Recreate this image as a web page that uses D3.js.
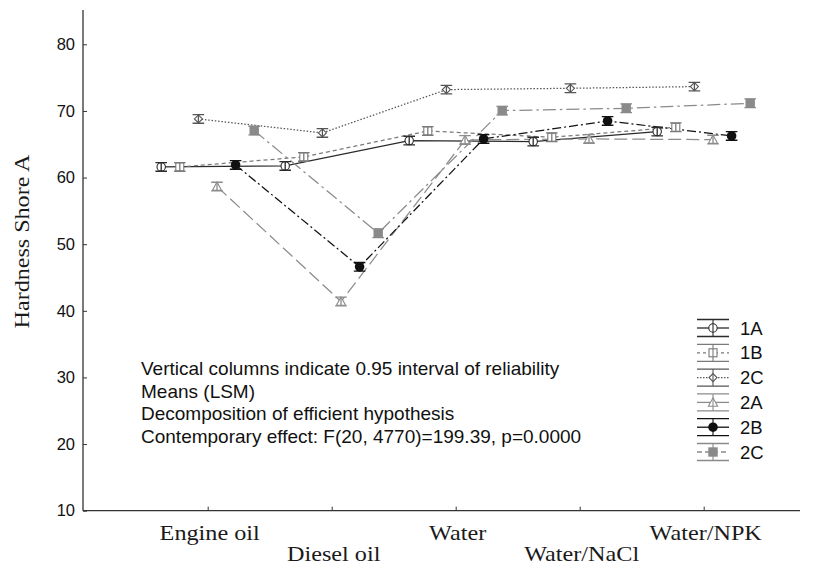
<!DOCTYPE html>
<html>
<head>
<meta charset="utf-8">
<script src="https://cdn.jsdelivr.net/npm/d3@7"></script>
<style>
  body { margin: 0; background: #fff; }
  svg { display: block; }
</style>
</head>
<body>
<svg id="chart" width="819" height="565"></svg>
<script>
// Exposure media (x categories)
const media = ["Engine oil", "Diesel oil", "Water", "Water/NaCl", "Water/NPK"];

// Least-squares means of Shore A hardness per sample group
const mean1A  = [61.6, 61.75, 65.55, 65.4, 66.9];
const mean1B  = [61.6, 63.1, 67.0, 66.05, 67.55];
const mean2Co = [68.8, 66.7, 73.2, 73.4, 73.65];
const mean2A  = [58.65, 41.4, 65.65, 65.8, 65.7];
const mean2B  = [61.9, 46.6, 65.8, 68.5, 66.25];
const mean2Cf = [67.05, 51.65, 70.05, 70.4, 71.15];

// Half-widths of the 0.95 intervals
const ci1A  = [0.65, 0.65, 0.65, 0.65, 0.65];
const ci1B  = [0.65, 0.65, 0.65, 0.65, 0.65];
const ci2Co = [0.65, 0.65, 0.65, 0.65, 0.65];
const ci2A  = [0.65, 0.65, 0.65, 0.65, 0.65];
const ci2B  = [0.65, 0.65, 0.65, 0.65, 0.65];
const ci2Cf = [0.65, 0.65, 0.65, 0.65, 0.65];

const seriesLabels = ["1A", "1B", "2C", "2A", "2B", "2C"];
const yTicks = [10, 20, 30, 40, 50, 60, 70, 80];

const notes = [
  "Vertical columns indicate 0.95 interval of reliability",
  "Means (LSM)",
  "Decomposition of efficient hypothesis",
  "Contemporary effect: F(20, 4770)=199.39, p=0.0000"
];

// Drawing style of each group
const styles = [
  { id: "s1A",  color: "#2b2b2b", dash: null,          legendDash: null,      marker: "circle",   fill: "none" },
  { id: "s1B",  color: "#7a7a7a", dash: "4,3",         legendDash: "3,3",     marker: "square",   fill: "none" },
  { id: "s2Co", color: "#555555", dash: "1.5,1.8",     legendDash: "1.5,1.5", marker: "diamond",  fill: "none" },
  { id: "s2A",  color: "#8c8c8c", dash: "13,5",        legendDash: null,      marker: "triangle", fill: "none" },
  { id: "s2B",  color: "#111111", dash: "9,3,2,3",     legendDash: null,      marker: "dot",      fill: "#111111" },
  { id: "s2Cf", color: "#8a8a8a", dash: "13,4,2.5,4",  legendDash: "5,3",     marker: "block",    fill: "#8a8a8a" }
];

const means = [mean1A, mean1B, mean2Co, mean2A, mean2B, mean2Cf];
const cis = [ci1A, ci1B, ci2Co, ci2A, ci2B, ci2Cf];

const series = styles.map((s, k) => ({
  ...s,
  label: seriesLabels[k],
  values: media.map((m, i) => ({ medium: m, v: means[k][i], ci: cis[k][i] }))
}));

const svg = d3.select("#chart");

// Scales
const xAxisLeft = 83, xAxisRight = 800;
const y = d3.scaleLinear().domain([10, 85]).range([510.7, 11]);
const xCat = d3.scalePoint().domain(media).range([207.7, 703.7]);
const xOff = d3.scalePoint().domain(series.map(s => s.id)).range([-46.5, 46.5]);
const xPos = (id, m) => xCat(m) + xOff(id);

const sans = "'Liberation Sans', Arial, sans-serif";
const serif = "'Liberation Serif', 'Times New Roman', serif";

// Axes
const yAxis = d3.axisLeft(y).tickValues(yTicks).tickSizeInner(-4).tickSizeOuter(0).tickPadding(8);
const gy = svg.append("g").attr("transform", `translate(${xAxisLeft},0)`).call(yAxis);
gy.select(".domain").attr("d", `M0,${y(85) - 1}V${y(10)}`).attr("stroke", "#333").attr("stroke-width", 1.3);
gy.selectAll(".tick line").attr("stroke", "#333");
gy.selectAll(".tick text").attr("font-family", sans).attr("font-size", 16.5).attr("fill", "#111");

const xAxis = d3.axisBottom(xCat).tickSizeInner(-4).tickSizeOuter(0).tickFormat("");
const gx = svg.append("g").attr("transform", `translate(0,${y(10)})`).call(xAxis);
gx.select(".domain").attr("d", `M${xAxisLeft},0H${xAxisRight}`).attr("stroke", "#333").attr("stroke-width", 1.3);
gx.selectAll(".tick line").attr("stroke", "#333");

// Category labels, staggered on two rows
svg.append("g").selectAll("text").data(media).join("text")
  .attr("x", d => xCat(d) + 2)
  .attr("y", (d, i) => i % 2 === 0 ? 540 : 561)
  .attr("text-anchor", "middle")
  .attr("font-family", serif)
  .attr("font-size", 22)
  .attr("fill", "#1a1a1a")
  .text(d => d)
  .each(function () {
    const w = this.getComputedTextLength();
    d3.select(this).attr("textLength", w * 1.1).attr("lengthAdjust", "spacingAndGlyphs");
  });

// Y title
svg.append("text")
  .attr("transform", `translate(29,241.5) rotate(-90)`)
  .attr("text-anchor", "middle")
  .attr("font-family", serif)
  .attr("font-size", 21.5)
  .attr("fill", "#1a1a1a")
  .text("Hardness Shore A")
  .each(function () {
    const w = this.getComputedTextLength();
    d3.select(this).attr("textLength", w * 1.12).attr("lengthAdjust", "spacingAndGlyphs");
  });

// Marker drawing
function drawMarker(g, s, cx, cy) {
  const sw = 1.1;
  switch (s.marker) {
    case "circle":
      g.append("circle").attr("cx", cx).attr("cy", cy).attr("r", 4.2)
        .attr("fill", "#fff").attr("stroke", s.color).attr("stroke-width", sw);
      break;
    case "square":
      g.append("rect").attr("x", cx - 4).attr("y", cy - 4).attr("width", 8).attr("height", 8)
        .attr("fill", "#fff").attr("stroke", s.color).attr("stroke-width", sw);
      break;
    case "diamond":
      g.append("path").attr("d", `M${cx},${cy - 4}L${cx + 4},${cy}L${cx},${cy + 4}L${cx - 4},${cy}Z`)
        .attr("fill", "#fff").attr("stroke", s.color).attr("stroke-width", sw);
      break;
    case "triangle":
      g.append("path").attr("d", `M${cx},${cy - 4.6}L${cx + 4.6},${cy + 3.8}L${cx - 4.6},${cy + 3.8}Z`)
        .attr("fill", "#fff").attr("stroke", s.color).attr("stroke-width", sw);
      break;
    case "dot":
      g.append("circle").attr("cx", cx).attr("cy", cy).attr("r", 4.8).attr("fill", s.fill);
      break;
    case "block":
      g.append("rect").attr("x", cx - 4.7).attr("y", cy - 4.7).attr("width", 9.4).attr("height", 9.4)
        .attr("fill", s.fill);
      break;
  }
}

// Connecting lines
const line = d3.line().x(d => d.x).y(d => d.y);
const plot = svg.append("g");
series.forEach(s => {
  const pts = s.values.map(p => ({ x: xPos(s.id, p.medium), y: y(p.v) }));
  plot.append("path")
    .attr("d", line(pts))
    .attr("fill", "none")
    .attr("stroke", s.color)
    .attr("stroke-width", 1.25)
    .attr("stroke-dasharray", s.dash);
});

// Interval whiskers and markers
series.forEach(s => {
  const g = plot.append("g");
  s.values.forEach(p => {
    const cx = xPos(s.id, p.medium);
    const y0 = y(p.v - p.ci), y1 = y(p.v + p.ci);
    drawMarker(g, s, cx, y(p.v));
    g.append("path")
      .attr("d", `M${cx},${y0}V${y1}M${cx - 5.8},${y0}H${cx + 5.8}M${cx - 5.8},${y1}H${cx + 5.8}`)
      .attr("fill", "none").attr("stroke", s.color).attr("stroke-width", 1.3);
  });
});

// Notes block
svg.append("g").selectAll("text").data(notes).join("text")
  .attr("x", 141)
  .attr("y", (d, i) => 375 + i * 22.5)
  .attr("font-family", sans)
  .attr("font-size", 19)
  .attr("fill", "#111")
  .text(d => d);

// Legend
const legend = svg.append("g");
series.forEach((s, k) => {
  const cy = 328 + k * 24.8;
  const g = legend.append("g");
  const x0 = 697, x1 = 729, cx = 713;
  g.append("path").attr("d", `M${x0},${cy}H${x1}`)
    .attr("stroke", s.color).attr("stroke-width", 1.3).attr("stroke-dasharray", s.legendDash);
  g.append("path")
    .attr("d", `M${x0},${cy - 8.5}H${x1}M${x0},${cy + 8.5}H${x1}`)
    .attr("fill", "none").attr("stroke", s.color).attr("stroke-width", 1.3);
  drawMarker(g, s, cx, cy);
  g.append("path").attr("d", `M${cx},${cy - 8.5}V${cy + 8.5}`)
    .attr("stroke", s.color).attr("stroke-width", 1.1);
  g.append("text")
    .attr("x", 740).attr("y", cy + 6.5)
    .attr("font-family", sans).attr("font-size", 18.5).attr("fill", "#111")
    .text(s.label);
});
</script>
</body>
</html>
